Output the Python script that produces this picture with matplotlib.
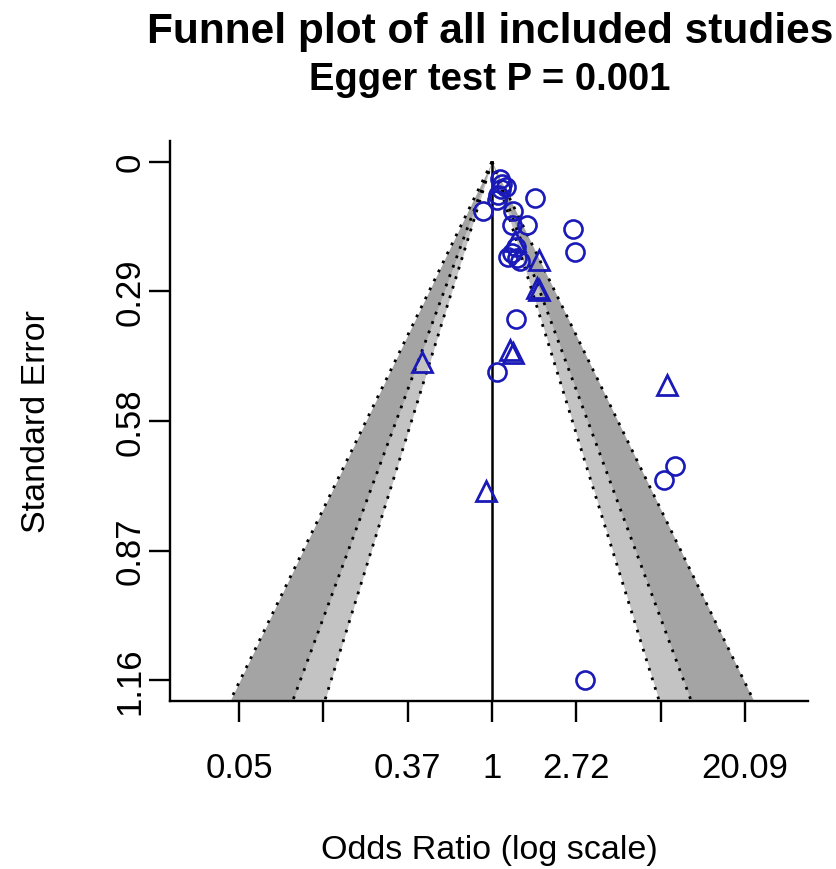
import numpy as np
import matplotlib
matplotlib.use("Agg")
import matplotlib.pyplot as plt

plt.rcParams["font.family"] = ["Liberation Sans", "DejaVu Sans"]

# log odds ratio and standard error
circle_logor = [0.095, 0.119, 0.107, 0.071, 0.166, 0.059, 0.511, -0.107, 0.249,
                0.238, 0.416, 0.962, 0.986, 0.190, 0.297, 0.238, 0.333, 0.285,
                0.285, 0.059, 2.173, 2.043, 1.105]
circle_se = [0.038, 0.049, 0.060, 0.074, 0.056, 0.085, 0.081, 0.110, 0.110,
             0.141, 0.141, 0.150, 0.202, 0.213, 0.215, 0.204, 0.222, 0.190,
             0.352, 0.470, 0.681, 0.712, 1.160]

triangle_logor = [0.273, 0.558, 0.534, 0.558, 0.214, 0.249, -0.831, -0.071, 2.078]
triangle_se = [0.177, 0.219, 0.282, 0.287, 0.421, 0.428, 0.448, 0.737, 0.499]

z_levels = [2.576, 1.960, 1.645]          # 99%, 95%, 90%
shades = ["#a4a4a4", "#c3c3c3", "white"]

x_ticks = [-3, -2, -1, 0, 1, 2, 3]
x_labels = ["0.05", "", "0.37", "1", "2.72", "", "20.09"]
y_ticks = [0, 0.29, 0.58, 0.87, 1.16]
y_labels = ["0", "0.29", "0.58", "0.87", "1.16"]

se_max = 1.16
ylim = (se_max * 1.04, -se_max * 0.04)
xlim = (-3.82, 3.75)

fig = plt.figure(figsize=(8.36, 8.70), dpi=100)
ax = fig.add_axes([170 / 836, 1 - 702 / 870, 638 / 836, 560 / 870])

se_grid = np.linspace(0, ylim[0], 200)
for z, col in zip(z_levels, shades):
    ax.fill_betweenx(se_grid, -z * se_grid, z * se_grid, color=col, lw=0, zorder=1)
for z in z_levels:
    for sign in (-1, 1):
        ax.plot(sign * z * se_grid, se_grid, color="black", lw=2.0,
                linestyle=(0, (1.0, 2.6)), zorder=2)

ax.plot([0, 0], [0, ylim[0]], color="black", lw=1.8, zorder=3)

blue = "#1a1ab8"
ax.plot(circle_logor, circle_se, "o", ms=13, mfc="none", mec=blue, mew=1.9, zorder=4)
ax.plot(triangle_logor, triangle_se, "^", ms=14, mfc="none", mec=blue, mew=2.0, zorder=4)

ax.set_xlim(xlim)
ax.set_ylim(ylim)

ax.set_xticks(x_ticks)
ax.set_xticklabels(x_labels)
ax.set_yticks(y_ticks)
ax.set_yticklabels(y_labels, rotation=90, va="center")

for side in ("top", "right"):
    ax.spines[side].set_visible(False)
for side in ("left", "bottom"):
    ax.spines[side].set_linewidth(1.7)

ax.tick_params(axis="both", length=15, width=1.7, labelsize=25, colors="black")
ax.tick_params(axis="x", pad=21)
ax.tick_params(axis="y", pad=2)

ax.set_xlabel("Odds Ratio (log scale)", fontsize=24.5, labelpad=36)
ax.set_ylabel("Standard Error", fontsize=24.5, labelpad=44)

fig.text(490 / 836, 1 - 32 / 870, "Funnel plot of all included studies",
         ha="center", va="center", fontsize=30.5, fontweight="bold")
fig.text(490 / 836, 1 - 80 / 870, "Egger test P = 0.001",
         ha="center", va="center", fontsize=27.5, fontweight="bold")

fig.savefig("out.png", dpi=100)
